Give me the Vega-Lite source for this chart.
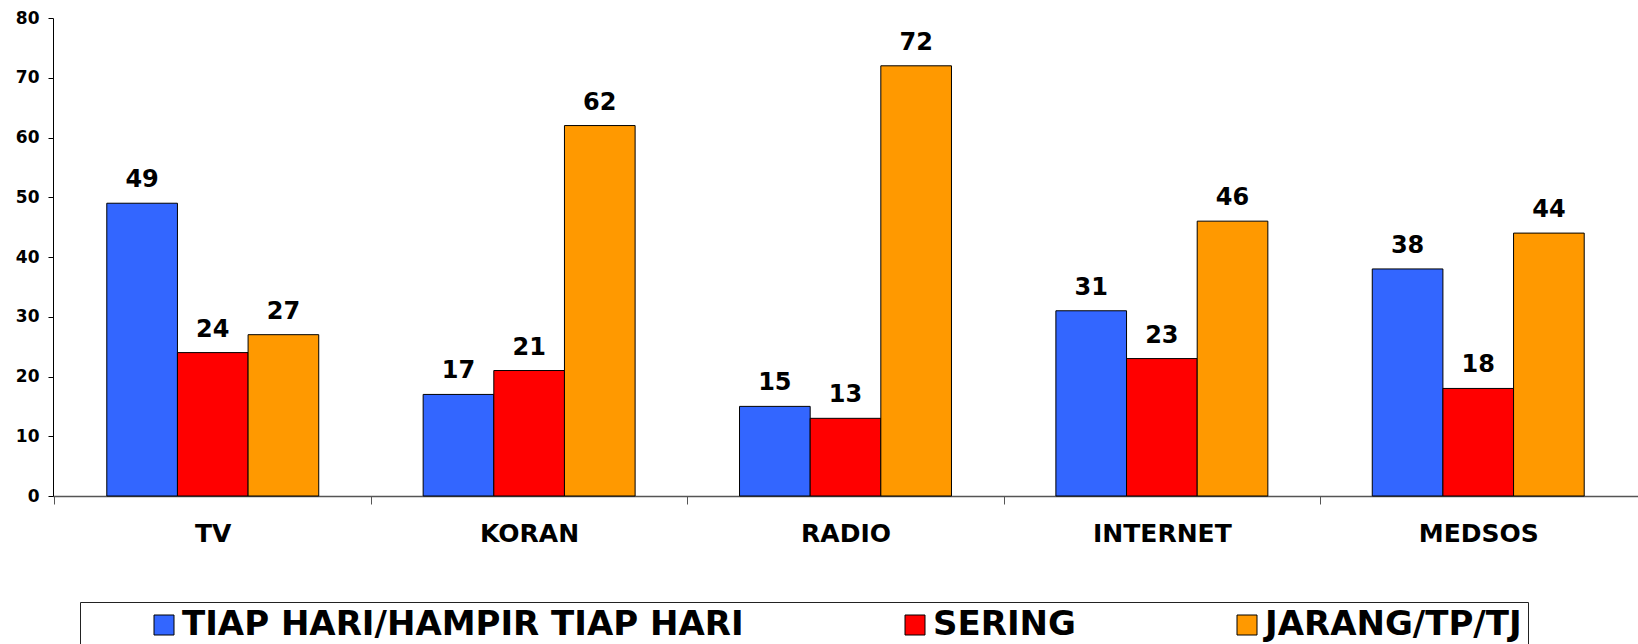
{
  "$schema": "https://vega.github.io/schema/vega-lite/v6.json",
  "width": 1585,
  "height": 478,
  "autosize": {"type": "none"},
  "padding": {"left": 53, "top": 18, "right": 0, "bottom": 148},
  "background": "white",
  "config": {"view": {"stroke": null}, "font": "DejaVu Sans"},
  "data": {
    "values": [
      {"media": "TV", "kategori": "TIAP HARI/HAMPIR TIAP HARI", "nilai": 49},
      {"media": "TV", "kategori": "SERING", "nilai": 24},
      {"media": "TV", "kategori": "JARANG/TP/TJ", "nilai": 27},
      {"media": "KORAN", "kategori": "TIAP HARI/HAMPIR TIAP HARI", "nilai": 17},
      {"media": "KORAN", "kategori": "SERING", "nilai": 21},
      {"media": "KORAN", "kategori": "JARANG/TP/TJ", "nilai": 62},
      {"media": "RADIO", "kategori": "TIAP HARI/HAMPIR TIAP HARI", "nilai": 15},
      {"media": "RADIO", "kategori": "SERING", "nilai": 13},
      {"media": "RADIO", "kategori": "JARANG/TP/TJ", "nilai": 72},
      {"media": "INTERNET", "kategori": "TIAP HARI/HAMPIR TIAP HARI", "nilai": 31},
      {"media": "INTERNET", "kategori": "SERING", "nilai": 23},
      {"media": "INTERNET", "kategori": "JARANG/TP/TJ", "nilai": 46},
      {"media": "MEDSOS", "kategori": "TIAP HARI/HAMPIR TIAP HARI", "nilai": 38},
      {"media": "MEDSOS", "kategori": "SERING", "nilai": 18},
      {"media": "MEDSOS", "kategori": "JARANG/TP/TJ", "nilai": 44}
    ]
  },
  "encoding": {
    "x": {
      "field": "media",
      "type": "nominal",
      "sort": ["TV", "KORAN", "RADIO", "INTERNET", "MEDSOS"],
      "scale": {"paddingInner": 0.33, "paddingOuter": 0.17},
      "axis": {
        "title": null,
        "labelAngle": 0,
        "labelFontSize": 25,
        "labelFontWeight": "bold",
        "labelColor": "black",
        "labelPadding": 17,
        "bandPosition": 0,
        "tickOffset": -52.3,
        "labelOffset": 52.3,
        "tickSize": 8,
        "tickColor": "#555555",
        "domainColor": "#555555",
        "domainWidth": 1.5,
        "grid": false
      }
    },
    "xOffset": {
      "field": "kategori",
      "type": "nominal",
      "sort": ["TIAP HARI/HAMPIR TIAP HARI", "SERING", "JARANG/TP/TJ"],
      "scale": {"paddingInner": 0, "paddingOuter": 0}
    },
    "y": {
      "field": "nilai",
      "type": "quantitative",
      "scale": {"domain": [0, 80], "nice": false},
      "axis": {
        "title": null,
        "values": [0, 10, 20, 30, 40, 50, 60, 70, 80],
        "labelFontSize": 17,
        "labelFontWeight": "bold",
        "labelColor": "black",
        "labelPadding": 9,
        "tickSize": 5,
        "tickColor": "black",
        "domainColor": "black",
        "grid": false
      }
    }
  },
  "layer": [
    {
      "mark": {"type": "bar", "stroke": "black", "strokeWidth": 1},
      "encoding": {
        "color": {
          "field": "kategori",
          "type": "nominal",
          "scale": {
            "domain": ["TIAP HARI/HAMPIR TIAP HARI", "SERING", "JARANG/TP/TJ"],
            "range": ["#3366FF", "#FF0000", "#FF9900"]
          },
          "legend": {
            "title": "\u00a0",
            "titleOrient": "left",
            "titleFontSize": 10,
            "titlePadding": 61,
            "orient": "none",
            "legendX": 27,
            "legendY": 584,
            "direction": "horizontal",
            "columns": 3,
            "columnPadding": 154,
            "symbolType": "square",
            "symbolSize": 400,
            "symbolStrokeColor": "black",
            "symbolStrokeWidth": 1,
            "symbolOpacity": 1,
            "labelFontSize": 34,
            "labelFontWeight": "bold",
            "labelColor": "black",
            "labelLimit": 2000,
            "labelOffset": 1,
            "padding": 6,
            "strokeColor": "#222222",
            "fillColor": "white"
          }
        }
      }
    },
    {
      "mark": {
        "type": "text",
        "baseline": "alphabetic",
        "dy": -16,
        "fontSize": 24,
        "fontWeight": "bold",
        "color": "black"
      },
      "encoding": {"text": {"field": "nilai", "type": "quantitative"}}
    }
  ]
}
